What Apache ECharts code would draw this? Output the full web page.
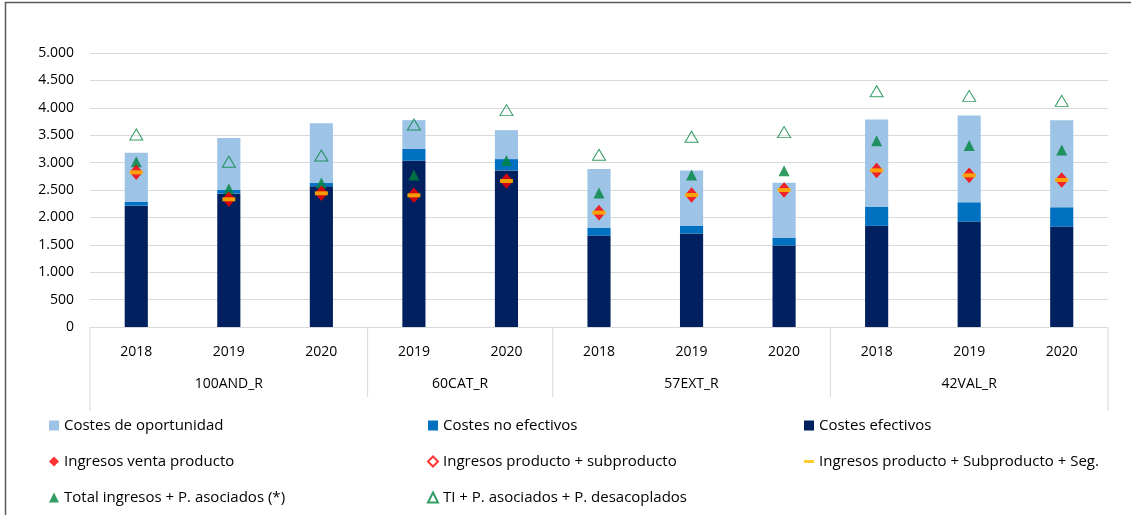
<!DOCTYPE html>
<html>
<head>
<meta charset="utf-8">
<script src="https://cdn.jsdelivr.net/npm/echarts@6/dist/echarts.min.js"></script>
<style>
  html, body { margin: 0; padding: 0; background: #fff; }
  #chart { width: 1131px; height: 515px; }
</style>
</head>
<body>
<div id="chart"></div>
<script>
// ---------- datos ----------
const years = ['2018', '2019', '2020', '2019', '2020', '2018', '2019', '2020', '2018', '2019', '2020'];
const groupNames = ['100AND_R', '60CAT_R', '57EXT_R', '42VAL_R'];
const groupSizes = [3, 2, 3, 3];
const yTicks = [0, 500, 1000, 1500, 2000, 2500, 3000, 3500, 4000, 4500, 5000];

// barras apiladas (abajo -> arriba)
const costesEfectivos = [2214, 2433, 2567, 3034, 2858, 1668, 1705, 1486, 1845, 1923, 1832];
const costesNoEfectivos = [67, 67, 60, 218, 206, 140, 140, 140, 351, 353, 353];
const costesOportunidad = [899, 947, 1093, 523, 528, 1074, 1013, 1007, 1591, 1584, 1590];

// marcadores
const ingresosVenta = [2822, 2330, 2440, 2403, 2664, 2087, 2409, 2500, 2858, 2767, 2682];
const ingresosSub = [2822, 2330, 2440, 2403, 2664, 2087, 2409, 2500, 2858, 2767, 2682];
const ingresosSeg = [2822, 2330, 2440, 2403, 2664, 2087, 2409, 2500, 2858, 2767, 2682];
const totalAsociados = [3016, 2524, 2627, 2773, 3040, 2445, 2773, 2852, 3398, 3313, 3228];
const tiDesacoplados = [3514, 3016, 3131, 3696, 3957, 3143, 3471, 3556, 4303, 4217, 4126];

// ---------- colores ----------
const C_LIGHT = '#9DC3E6';
const C_MID = '#0070C0';
const C_DARK = '#002060';
const C_RED = '#FF0000';
const C_YEL = '#FFC000';
const C_GRN = '#00843D';
const FONT = 'Open Sans';

// grupos -> [inicio, fin, nombre]
const groupData = [];
let idx = 0;
groupNames.forEach((g, i) => {
  groupData.push([idx, idx + groupSizes[i] - 1, g]);
  idx += groupSizes[i];
});

function fmt(v) {
  return String(v).replace(/\B(?=(\d{3})+(?!\d))/g, '.');
}

const chart = echarts.init(document.getElementById('chart'), null, { renderer: 'canvas' });

const legendBase = {
  orient: 'vertical',
  top: 413,
  itemWidth: 10,
  itemHeight: 10,
  itemGap: 21,
  textStyle: { fontFamily: FONT, fontSize: 15, color: '#000' },
  selectedMode: false
};

chart.setOption({
  animation: false,
  grid: { left: 90, right: 23, top: 53, bottom: 188 },
  xAxis: {
    type: 'category',
    data: years,
    axisLine: { lineStyle: { color: '#d9d9d9' } },
    axisTick: { show: false },
    axisLabel: { margin: 18, fontFamily: FONT, fontSize: 14, color: '#000' }
  },
  yAxis: {
    type: 'value',
    min: yTicks[0],
    max: yTicks[yTicks.length - 1],
    interval: 500,
    axisLine: { show: false },
    axisTick: { show: false },
    splitLine: { lineStyle: { color: '#d9d9d9', width: 1 } },
    axisLabel: { margin: 16, fontFamily: FONT, fontSize: 14, color: '#000', formatter: fmt }
  },
  legend: [
    Object.assign({}, legendBase, { left: 44, data: [
      { name: 'Costes de oportunidad', icon: 'rect' },
      { name: 'Ingresos venta producto', icon: 'diamond' },
      { name: 'Total ingresos + P. asociados (*)', icon: 'triangle' }
    ] }),
    Object.assign({}, legendBase, { left: 422, data: [
      { name: 'Costes no efectivos', icon: 'rect' },
      { name: 'Ingresos producto + subproducto', icon: 'diamond' },
      { name: 'TI + P. asociados + P. desacoplados', icon: 'triangle' }
    ] }),
    Object.assign({}, legendBase, { left: 799, data: [
      { name: 'Costes efectivos', icon: 'rect' },
      { name: 'Ingresos producto + Subproducto + Seg.', icon: 'path://M0,0h10v3h-10z' }
    ] })
  ],
  graphic: [
    {
      type: 'polyline',
      shape: { points: [[5.5, 515], [5.5, 2.5], [1131, 2.5]] },
      style: { stroke: '#595959', lineWidth: 1.5, fill: null },
      silent: true
    }
  ],
  series: [
    { name: 'Costes efectivos', type: 'bar', stack: 'c', barWidth: '25%', data: costesEfectivos,
      itemStyle: { color: C_DARK } },
    { name: 'Costes no efectivos', type: 'bar', stack: 'c', barWidth: '25%', data: costesNoEfectivos,
      itemStyle: { color: C_MID } },
    { name: 'Costes de oportunidad', type: 'bar', stack: 'c', barWidth: '25%', data: costesOportunidad,
      itemStyle: { color: C_LIGHT } },
    { name: 'TI + P. asociados + P. desacoplados', type: 'scatter', symbol: 'triangle', symbolSize: [13, 11],
      data: tiDesacoplados, itemStyle: { color: 'rgba(0,0,0,0)', borderColor: C_GRN, borderWidth: 1 }, z: 5 },
    { name: 'Total ingresos + P. asociados (*)', type: 'scatter', symbol: 'triangle', symbolSize: [11, 11],
      data: totalAsociados, itemStyle: { color: C_GRN }, z: 5 },
    { name: 'Ingresos venta producto', type: 'scatter', symbol: 'diamond', symbolSize: [12, 14],
      data: ingresosVenta, itemStyle: { color: C_RED }, z: 5 },
    { name: 'Ingresos producto + subproducto', type: 'scatter', symbol: 'diamond', symbolSize: [12, 14],
      data: ingresosSub, itemStyle: { color: 'rgba(0,0,0,0)', borderColor: C_RED, borderWidth: 1 }, z: 6 },
    { name: 'Ingresos producto + Subproducto + Seg.', type: 'scatter', symbol: 'rect', symbolSize: [13, 4],
      data: ingresosSeg, itemStyle: { color: C_YEL }, z: 7 },
    {
      // etiquetas de grupo y separadores del eje
      type: 'custom',
      silent: true,
      clip: false,
      data: groupData,
      encode: { x: 0 },
      renderItem: function (params, api) {
        const i0 = api.value(0);
        const i1 = api.value(1);
        const band = api.size([1, 0])[0];
        const p0 = api.coord([i0, 0]);
        const p1 = api.coord([i1, 0]);
        const left = p0[0] - band / 2;
        const right = p1[0] + band / 2;
        const y0 = p0[1];
        const children = [];
        const first = params.dataIndex === 0;
        const last = params.dataIndex === groupData.length - 1;
        children.push({ type: 'line', shape: { x1: left, y1: y0, x2: left, y2: y0 + (first ? 84 : 70) },
          style: { stroke: '#d9d9d9', lineWidth: 1 } });
        if (last) {
          children.push({ type: 'line', shape: { x1: right, y1: y0, x2: right, y2: y0 + 84 },
            style: { stroke: '#d9d9d9', lineWidth: 1 } });
        }
        children.push({ type: 'text', style: { x: (left + right) / 2, y: y0 + 57, text: groupNames[params.dataIndex],
          align: 'center', verticalAlign: 'middle', fontFamily: FONT, fontSize: 14, fill: '#000' } });
        return { type: 'group', children: children };
      }
    }
  ]
});
</script>
</body>
</html>
